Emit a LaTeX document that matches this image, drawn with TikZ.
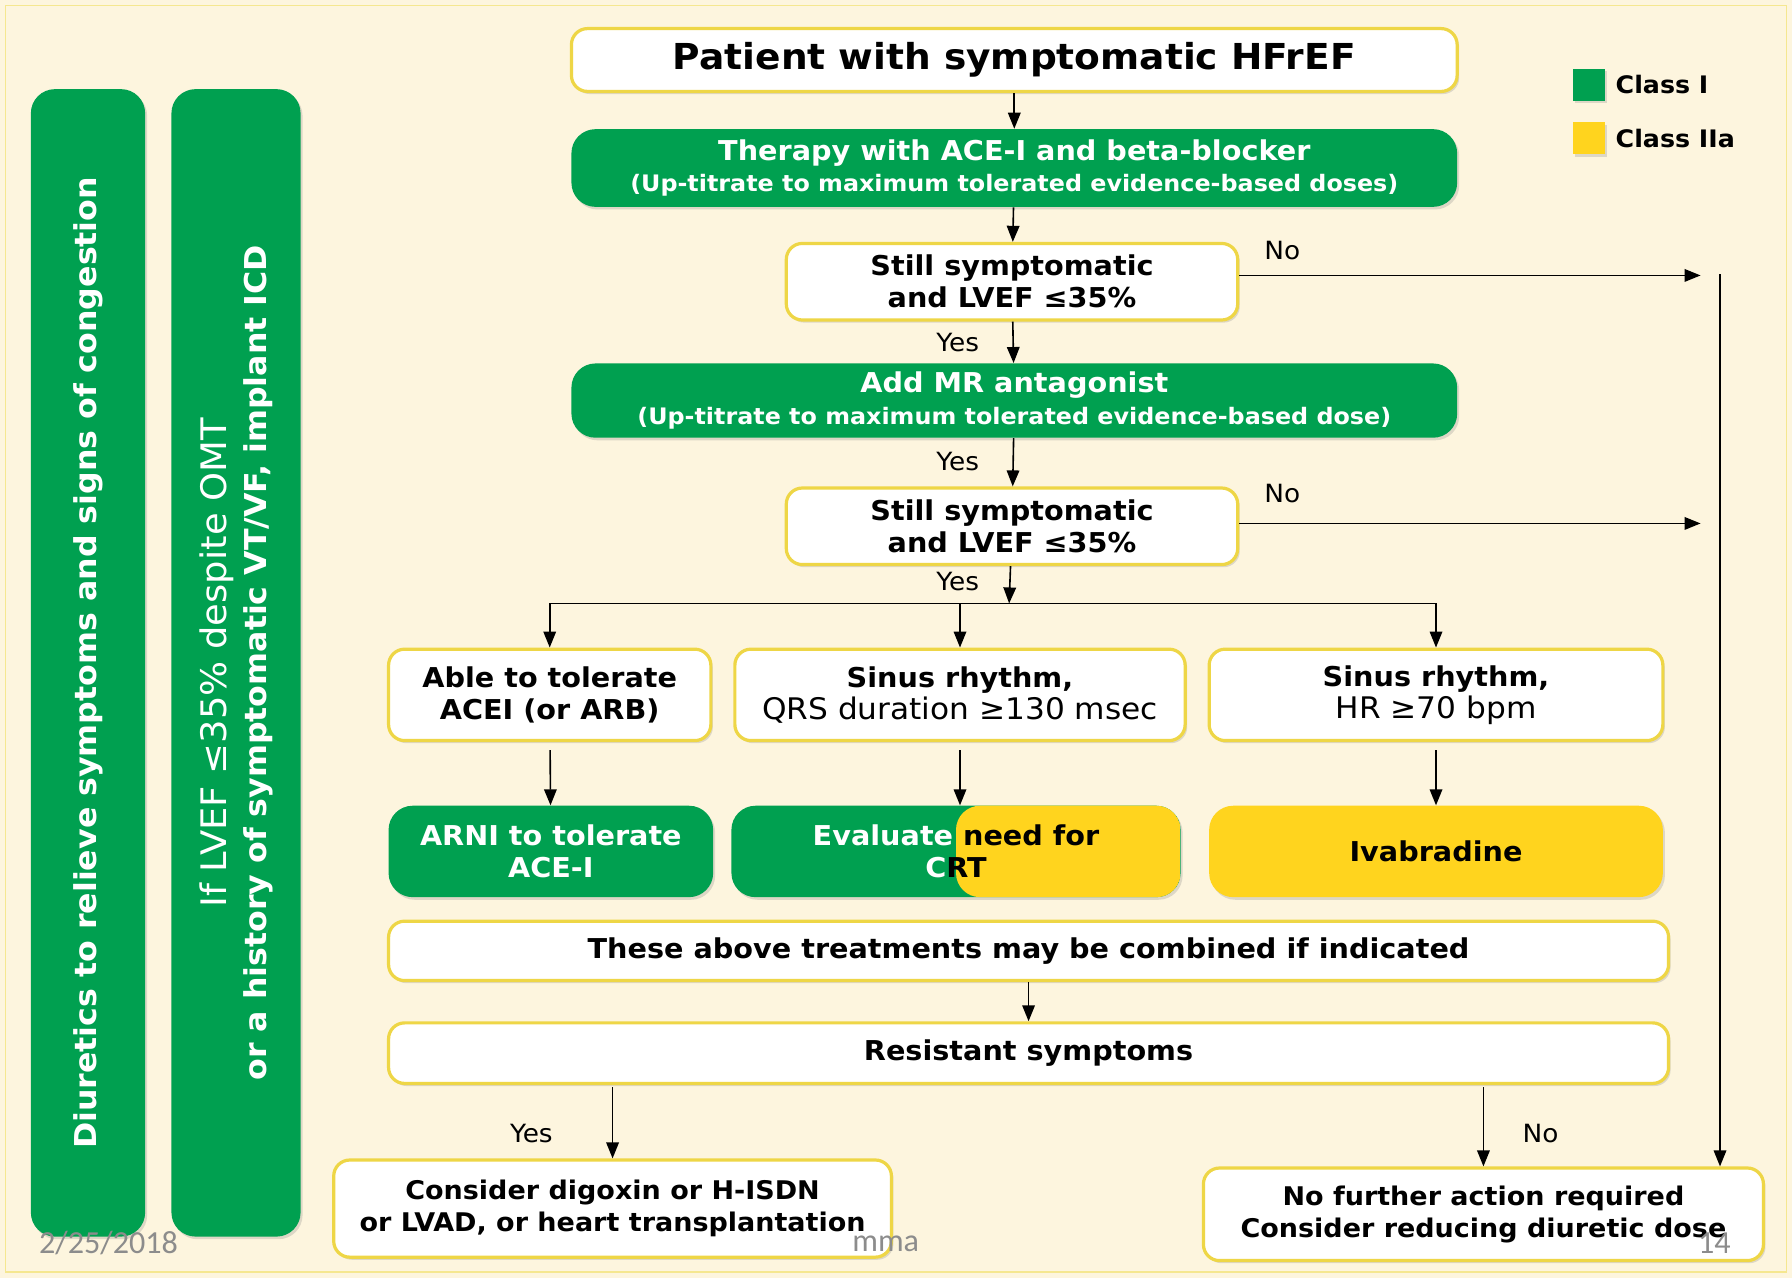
\documentclass[tikz,border=0pt]{standalone}
\usepackage{fontspec}
\setmainfont{DejaVu Sans}[FakeStretch=1.05]
\newfontfamily\footfont{Carlito}
\usetikzlibrary{positioning,shadows,arrows.meta}

\definecolor{cream}{RGB}{253,245,222}
\definecolor{escgreen}{RGB}{0,160,80}
\definecolor{escyellow}{RGB}{255,212,30}
\definecolor{rimyellow}{RGB}{238,214,70}
\definecolor{footgray}{RGB}{140,140,140}

\newcommand{\plainbig}{\mdseries\fontsize{14.8}{15.9}\selectfont}
\newcommand{\subline}{\fontsize{11.3}{15.9}\selectfont}

\tikzset{
  softshadow/.style={drop shadow={opacity=0.25, shadow xshift=1pt, shadow yshift=-1.3pt}},
  box/.style={draw=rimyellow, line width=1.6pt, fill=white, rounded corners=8pt,
    align=center, inner sep=0pt, softshadow, font=\bfseries\fontsize{13.6}{15.9}\selectfont},
  greenbox/.style={fill=escgreen, rounded corners=12pt, text=white, align=center,
    inner sep=0pt, softshadow, font=\bfseries\fontsize{13.6}{15.9}\selectfont},
  yellowbox/.style={greenbox, fill=escyellow, text=black},
  sidebar/.style={greenbox, rotate=90, minimum width=200.8mm, font=\bfseries\fontsize{15}{20}\selectfont},
  arr/.style={-{Triangle[length=2.8mm,width=2.2mm]}, line width=0.8pt},
  lbl/.style={font=\fontsize{12.5}{14}\selectfont, inner sep=1pt},
  legendsq/.style={minimum size=5.6mm, inner sep=0pt, softshadow},
  foot/.style={text=footgray, font=\footfont\fontsize{16}{18}\selectfont}
}

\begin{document}
\begin{tikzpicture}[x=0.2mm,y=-0.2mm]
\fill[cream] (0,0) rectangle (1568,1118);
\useasboundingbox (0,0) rectangle (1568,1118);
\draw[rimyellow!60, line width=0.6pt] (5,5) rectangle (1563,1113);

% side bars
\node[sidebar, minimum height=20mm] (diur) at (77,580) {Diuretics to relieve symptoms and signs of congestion};
\node[sidebar, minimum height=22.6mm] (icd) at (206.5,580) {{\mdseries\fontsize{17.5}{20}\selectfont If LVEF ≤35\% despite OMT}\\or a history of symptomatic VT/VF, implant ICD};

% main column
\node[box, minimum width=155mm, minimum height=11mm, font=\bfseries\fontsize{17.8}{19}\selectfont] (pat) at (887.5,52.5) {Patient with symptomatic HFrEF};
\node[greenbox, minimum width=155mm, minimum height=13.6mm] (acei) at (887.5,147) {Therapy with ACE-I and beta-blocker\\{\subline(Up-titrate to maximum tolerated evidence-based doses)}};
\node[box, minimum width=79mm, minimum height=13.4mm] (still1) at (885.5,246.5) {Still symptomatic\\and LVEF ≤35\%};
\node[greenbox, minimum width=155mm, minimum height=13mm] (mra) at (887.5,350.5) {Add MR antagonist\\{\subline(Up-titrate to maximum tolerated evidence-based dose)}};
\node[box, minimum width=79mm, minimum height=13.4mm] (still2) at (885.5,460.5) {Still symptomatic\\and LVEF ≤35\%};

% three branches
\node[box, minimum width=56.4mm, minimum height=16mm] (tol) at (481,608) {Able to tolerate\\ACEI (or ARB)};
\node[box, minimum width=78.8mm, minimum height=16mm] (qrs) at (840,608) {Sinus rhythm,\\{\plainbig QRS duration ≥130 msec}};
\node[box, minimum width=79.4mm, minimum height=16mm] (hr) at (1256.5,608) {Sinus rhythm,\\{\plainbig HR ≥70 bpm}};

\node[greenbox, minimum width=56.8mm, minimum height=16mm] (arni) at (482,745) {ARNI to tolerate\\ACE-I};
\node[greenbox, minimum width=78.6mm, minimum height=16mm, text=black,
  path picture={\fill[escyellow] (path picture bounding box.north) rectangle (path picture bounding box.south east);}] (crt) at (836.5,745) {{\color{white}Evaluate }need for\\{\color{white}C}RT};
\node[yellowbox, minimum width=79.4mm, minimum height=16mm] (ivab) at (1256.5,745) {Ivabradine};

\node[box, minimum width=224mm, minimum height=10.4mm] (comb) at (900,832) {These above treatments may be combined if indicated};
\node[box, minimum width=224mm, minimum height=10.6mm] (resist) at (900,921.5) {Resistant symptoms};

\node[box, minimum width=97.6mm, minimum height=17mm, font=\bfseries\fontsize{12.8}{15.9}\selectfont] (dig) at (536,1057.5) {Consider digoxin or H-ISDN\\or LVAD, or heart transplantation};
\node[box, minimum width=98mm, minimum height=16.2mm, font=\bfseries\fontsize{12.8}{15.9}\selectfont] (nofur) at (1298,1062.5) {No further action required\\Consider reducing diuretic dose};

% legend
\node[legendsq, fill=escgreen] (sqI) at (1390,74) {};
\node[legendsq, fill=escyellow] (sqIIa) at (1390,121) {};
\node[right=1.8mm of sqI, inner sep=0pt, font=\bfseries\fontsize{12}{13}\selectfont] (clI) {Class I};
\node[right=1.8mm of sqIIa, inner sep=0pt, font=\bfseries\fontsize{12}{13}\selectfont] (clIIa) {Class IIa};

% connectors
\coordinate (no1) at (1488,241);
\coordinate (no2) at (1488,458);
\coordinate (rtop) at (1505,240);
\coordinate (split) at (883,528);
\draw[arr] (pat) -- (acei);
\draw[arr] (acei) -- (still1);
\draw[arr] (still1) -- (mra);
\draw[arr] (mra) -- (still2);
\draw[arr] (still2) -- (split);
\draw[arr] (still1.east |- no1) -- (no1);
\draw[arr] (still2.east |- no2) -- (no2);
\draw[arr] (rtop) -- (rtop |- nofur.north);
\draw[line width=0.8pt] (split -| tol.north) -- (split -| hr.north);
\draw[arr] (split -| tol.north) -- (tol.north);
\draw[arr] (split -| qrs.north) -- (qrs.north);
\draw[arr] (split -| hr.north) -- (hr.north);
\draw[arr, shorten <=1.4mm] (tol) -- (arni);
\draw[arr, shorten <=1.4mm] (qrs.south) -- (qrs.south |- crt.north);
\draw[arr, shorten <=1.4mm] (hr) -- (ivab);
\draw[arr] (comb) -- (resist);
\draw[arr, shorten <=0.4mm] (resist.south -| dig.north) -- (dig.north);
\draw[arr, shorten <=0.4mm] (resist.south -| nofur.north) -- (nofur.north);

% yes / no
\node[lbl] (y1) at (838,300) {Yes};
\node[lbl] (y2) at (838,404) {Yes};
\node[lbl] (y3) at (838,509) {Yes};
\node[lbl] (n1) at (1122,219) {No};
\node[lbl] (n2) at (1122,432) {No};
\node[lbl] (y4) at (465,992) {Yes};
\node[lbl] (n3) at (1348,992) {No};

% footer
\node[foot] (date) at (95,1088) {2/25/2018};
\node[foot] (auth) at (775,1088) {mma};
\node[foot] (page) at (1500,1088) {14};
\end{tikzpicture}
\end{document}
